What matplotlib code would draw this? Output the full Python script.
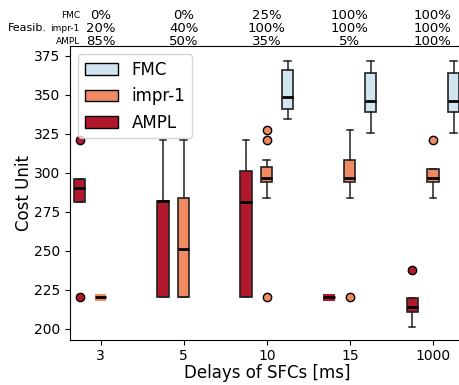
import matplotlib
matplotlib.use("Agg")
import matplotlib.pyplot as plt
from matplotlib.patches import Patch
from matplotlib.transforms import blended_transform_factory

# delay groups on the x axis
delays = ["3", "5", "10", "15", "1000"]

# cost statistics per solver (None = no feasible solution)
fmc_q1 = [None, None, 340.8, 338.7, 338.7]
fmc_med = [None, None, 348.7, 345.8, 345.8]
fmc_q3 = [None, None, 365.8, 363.7, 363.7]
fmc_lo = [None, None, 334.4, 325.3, 325.3]
fmc_hi = [None, None, 371.8, 371.8, 371.8]
fmc_fliers = [[], [], [], [], []]

impr_q1 = [217.8, 220.3, 293.8, 293.8, 293.8]
impr_med = [220.3, 250.9, 296.6, 296.6, 296.6]
impr_q3 = [222.5, 284.0, 303.5, 308.3, 302.4]
impr_lo = [217.8, 220.3, 284.0, 284.0, 284.0]
impr_hi = [222.5, 321.0, 308.3, 327.2, 302.4]
impr_fliers = [[], [], [327.2, 320.8, 220.3], [220.3], [320.8]]

ampl_q1 = [281.0, 220.3, 220.3, 217.8, 210.9]
ampl_med = [290.5, 281.9, 281.4, 220.3, 213.7]
ampl_q3 = [296.0, 281.9, 301.1, 222.5, 219.5]
ampl_lo = [281.0, 220.3, 220.3, 217.8, 201.1]
ampl_hi = [296.0, 321.0, 321.0, 222.5, 219.5]
ampl_fliers = [[321.0, 220.3], [], [], [], [237.8]]

# feasibility ratios printed above the axes
fmc_feas = ["0%", "0%", "25%", "100%", "100%"]
impr_feas = ["20%", "40%", "100%", "100%", "100%"]
ampl_feas = ["85%", "50%", "35%", "5%", "100%"]

series = [
    ("AMPL", "#b2182b", -0.25, ampl_q1, ampl_med, ampl_q3, ampl_lo, ampl_hi, ampl_fliers),
    ("impr-1", "#ef8a62", 0.0, impr_q1, impr_med, impr_q3, impr_lo, impr_hi, impr_fliers),
    ("FMC", "#d1e5f0", 0.25, fmc_q1, fmc_med, fmc_q3, fmc_lo, fmc_hi, fmc_fliers),
]

fig = plt.figure(figsize=(4.6, 3.85), dpi=100)
ax = fig.add_axes([0.152, 0.117, 0.856, 0.7635])

for name, color, off, q1, med, q3, lo, hi, fl in series:
    stats, pos = [], []
    for i in range(len(delays)):
        if med[i] is None:
            continue
        stats.append(dict(q1=q1[i], med=med[i], q3=q3[i],
                          whislo=lo[i], whishi=hi[i], fliers=fl[i]))
        pos.append(i + off)
    art = ax.bxp(stats, positions=pos, widths=0.135, patch_artist=True,
                 capwidths=0.08,
                 boxprops=dict(facecolor=color, edgecolor="#222222", linewidth=1.2),
                 medianprops=dict(color="black", linewidth=2),
                 whiskerprops=dict(color="#222222", linewidth=1.1),
                 capprops=dict(color="#222222", linewidth=1.1),
                 flierprops=dict(marker="o", markerfacecolor=color,
                                 markeredgecolor="black", markersize=6))
    # nearly flat boxes have no outline or caps
    for k, s in enumerate(stats):
        if s["q3"] - s["q1"] < 6:
            art["boxes"][k].set_linewidth(0)
            art["caps"][2 * k].set_visible(False)
            art["caps"][2 * k + 1].set_visible(False)

ax.set_xlim(-0.37, 4.37)
ax.set_ylim(192.8, 381.2)
ax.set_xticks(range(len(delays)))
ax.set_xticklabels(delays)
ax.set_yticks(range(200, 376, 25))
ax.tick_params(labelsize=10)
ax.tick_params(axis="x", pad=3)
ax.set_xlabel("Delays of SFCs [ms]", fontsize=12, labelpad=1)
ax.set_ylabel("Cost Unit", fontsize=12, labelpad=1)

handles = [Patch(facecolor=c, edgecolor="black", label=n)
           for n, c, *_ in reversed(series)]
ax.legend(handles=handles, loc="upper left", fontsize=12)

# feasibility table above the plot
tr = blended_transform_factory(ax.transData, ax.transAxes)
rows = [("FMC", fmc_feas, 1.105), ("impr-1", impr_feas, 1.061), ("AMPL", ampl_feas, 1.017)]
for label, vals, yy in rows:
    ax.text(0.025, yy, label, transform=ax.transAxes, ha="right", va="center", fontsize=6.5)
    for i, v in enumerate(vals):
        ax.text(i, yy, v, transform=tr, ha="center", va="center", fontsize=9.5)
fig.text(0.017, 1 - 28 / 385, "Feasib.", ha="left", va="center", fontsize=8)

fig.savefig("out.png", dpi=100)
